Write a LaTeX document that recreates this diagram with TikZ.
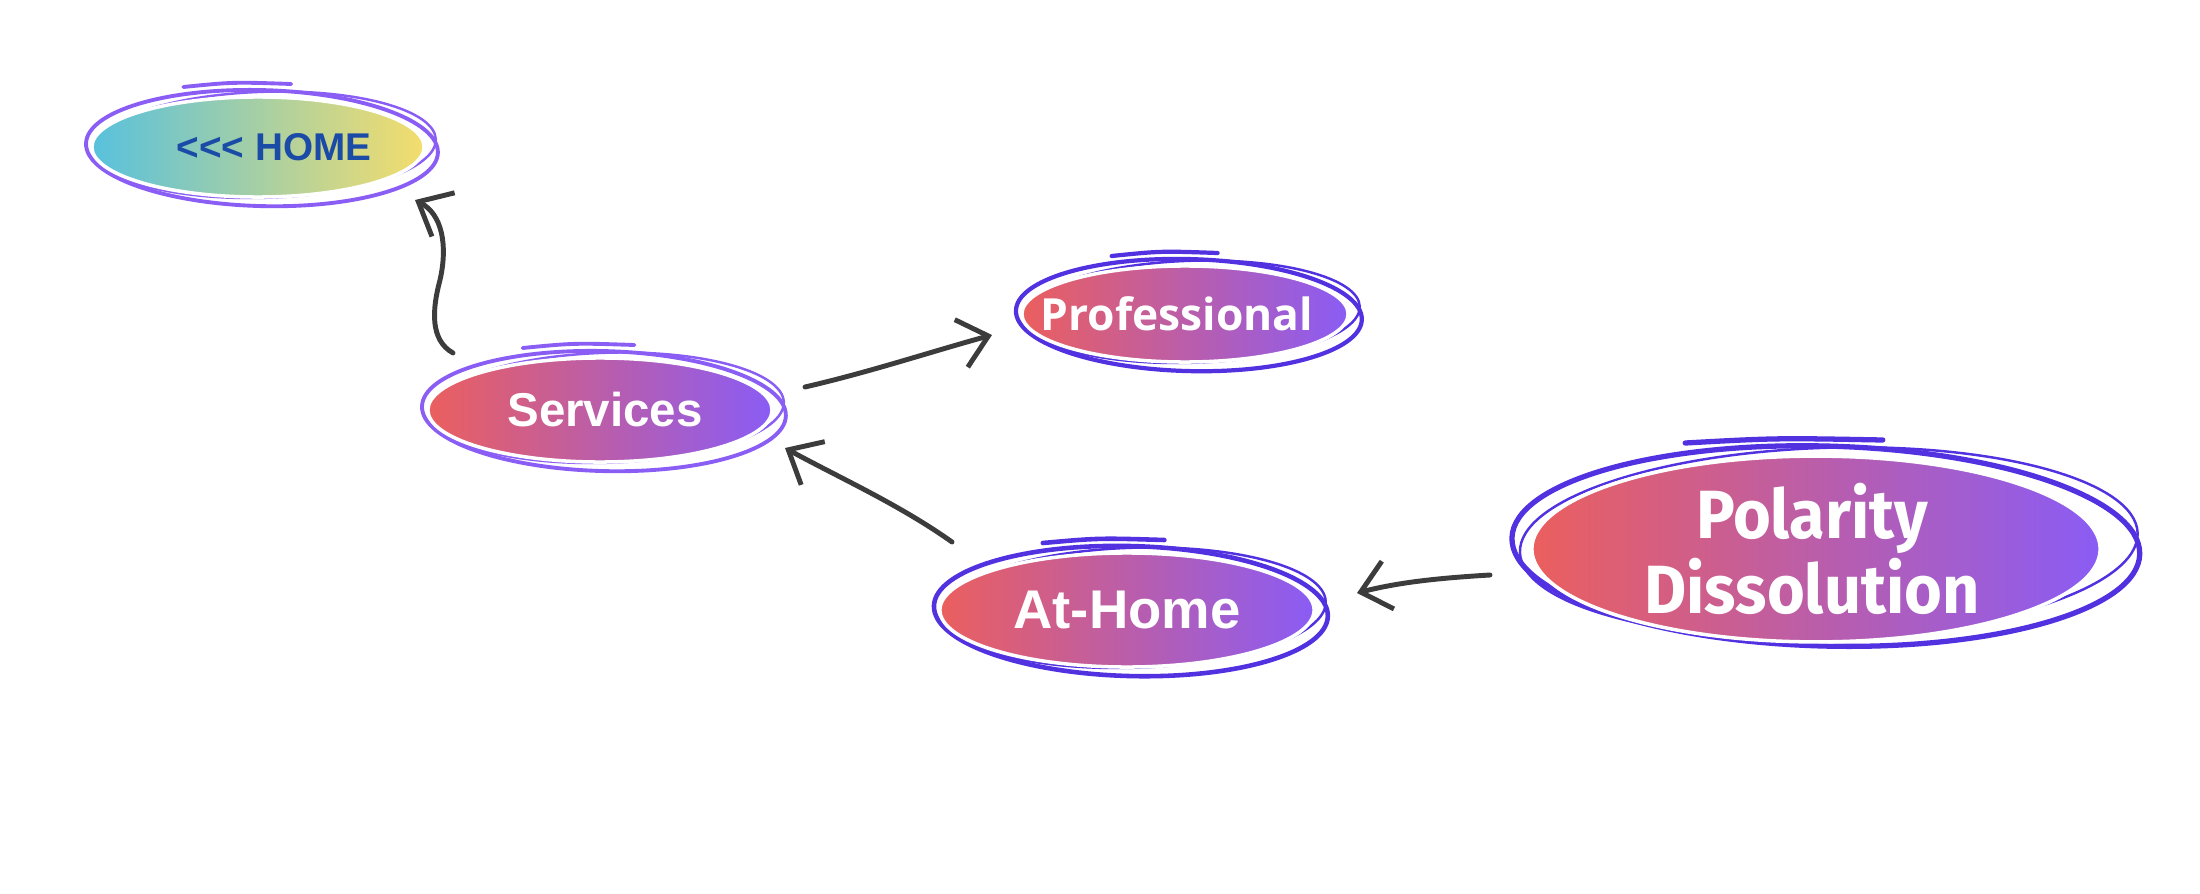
\documentclass[tikz,border=0pt]{standalone}
\usepackage{fontspec}
\setmainfont{Liberation Sans}
\newfontfamily\profont{Open Sans}
\newfontfamily\polfont{Fira Sans}[FakeStretch=0.95]
\usetikzlibrary{shapes.geometric,arrows.meta}
\definecolor{coral}{HTML}{EB5F5E}
\definecolor{violet}{HTML}{8A5CF5}
\definecolor{cyanish}{HTML}{58C1DD}
\definecolor{yellowish}{HTML}{F4DD6C}
\definecolor{lightring}{HTML}{8A5EF5}
\definecolor{darkring}{HTML}{5231E0}
\definecolor{homeblue}{HTML}{1A4BA6}
\definecolor{arrowgrey}{HTML}{3C3C3C}
\tikzset{
  blob/.style={ellipse, draw=white, line width=1pt, inner sep=0pt, outer sep=0pt,
    left color=coral, right color=violet, text=white, font=\bfseries},
  homeblob/.style={blob, left color=cyanish, right color=yellowish, text=homeblue},
  link/.style={draw=arrowgrey, line width=1.4pt, line cap=round,
    -{Straight Barb[length=8pt,width=14pt,line width=1.4pt]}}
}
\newcommand\zw[2][0pt]{\makebox[0pt]{\hspace*{#1}#2}}
\newcommand\sketchring[5]{%
  \draw[#4, line width=#5pt, rotate around={-1.5:(#1)}]
    ([shift={(4,1)}]#1) ellipse [x radius={#2+10}, y radius={#3+8}];
  \draw[#4, line width=0.7pt, rotate around={1.8:(#1)}]
    ([shift={(7,-2)}]#1) ellipse [x radius={#2+5}, y radius={#3+3}];
  \draw[#4, line width=#5pt, line cap=round]
    ([shift={({-0.45*#2},{-(#3+10)})}]#1) .. controls ([shift={({-0.15*#2},{-(#3+15)})}]#1)
    .. ([shift={({0.2*#2},{-(#3+13)})}]#1);
}
\begin{document}
\begin{tikzpicture}[x=0.01cm,y=-0.01cm]
\useasboundingbox (0,0) rectangle (2200,894);
\fill[white] (0,0) rectangle (2200,894);

\coordinate (chome) at (258,147);
\coordinate (cserv) at (600,410);
\coordinate (cprof) at (1185,314);
\coordinate (catho) at (1127,610);
\coordinate (cpola) at (1816,549);
\coordinate (rpola) at (1822,545);

\sketchring{chome}{166}{50}{lightring}{1.1}
\sketchring{cserv}{172}{52}{lightring}{1.1}
\sketchring{cprof}{163}{48}{darkring}{1.2}
\sketchring{catho}{187}{57}{darkring}{1.3}
\sketchring{rpola}{304}{92}{darkring}{1.5}

\node[homeblob, minimum width=3.32cm, minimum height=1.0cm, font=\bfseries\fontsize{11}{13}\selectfont] (home) at (chome) {\zw[0.32cm]{<{}<{}< HOME}};
\node[blob, minimum width=3.44cm, minimum height=1.04cm, font=\bfseries\fontsize{13.5}{15}\selectfont] (services) at (cserv) {\zw[0.1cm]{Services}};
\node[blob, minimum width=3.26cm, minimum height=0.96cm, font=\profont\bfseries\fontsize{12.6}{14}\selectfont] (prof) at (cprof) {\zw[-0.16cm]{Professional}};
\node[blob, minimum width=3.74cm, minimum height=1.14cm, font=\bfseries\fontsize{15.5}{17}\selectfont] (athome) at (catho) {\zw{At-Home}};
\node[blob, minimum width=5.68cm, minimum height=1.74cm, align=center, font=\polfont\bfseries\fontsize{19.4}{21.3}\selectfont] (polar) at (cpola) {\zw[-0.08cm]{Polarity}\\\zw[-0.08cm]{Dissolution}};

% connectors
\draw[link] ([shift={(-147,-57)}]services.center) .. controls (430,340) and (432,310) .. (440,280)
  .. controls (448,245) and (442,214) .. ([shift={(157,53)}]home.center);
\draw[link] ([shift={(205,-23)}]services.center) .. controls (870,372) and (930,352) .. ([shift={(-193,21)}]prof.center);
\draw[link] ([shift={(-175,-68)}]athome.center) .. controls (900,505) and (840,478) .. ([shift={(185,38)}]services.center);
\draw[link] ([shift={(-326,26)}]polar.center) .. controls (1440,578) and (1400,582) .. ([shift={(230,-17)}]athome.center);
\end{tikzpicture}
\end{document}
